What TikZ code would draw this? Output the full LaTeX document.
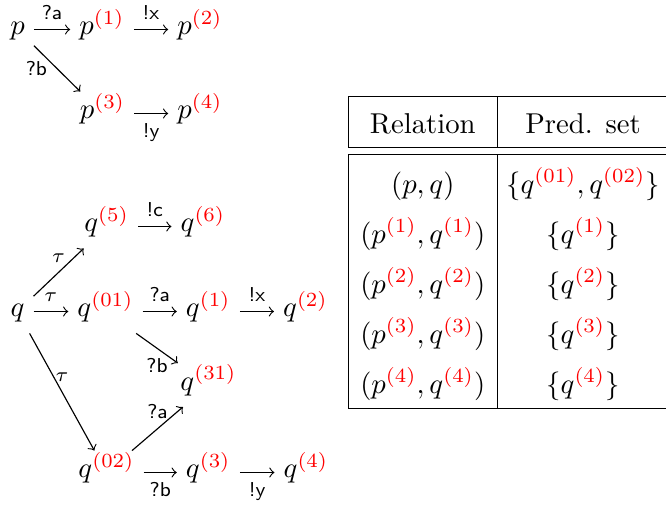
\documentclass[tikz,border=0pt]{standalone}
\usepackage{xcolor}
\newcommand\redsup[1]{^{\textcolor{red}{(#1)}}}
\begin{document}
\begin{tikzpicture}[x=0.3484pt,y=-0.3484pt,
  st/.style={text height=5.9pt,text depth=2.3pt,inner xsep=3pt},
  lb/.style={font=\scriptsize\sffamily},
  tl/.style={font=\scriptsize},
  cell/.style={anchor=base,inner sep=0pt},
  tr/.style={->}]
\useasboundingbox (0,0) rectangle (666,507);
\clip (0,0) rectangle (666,507);
% top graph
\node[st] (p)  at (17.5,29.5)   {$p$};
\node[st] (p1) at (102,29.5)    {$p\redsup{1}$};
\node[st] (p2) at (200,29.5)    {$p\redsup{2}$};
\node[st] (p3) at (102.5,113.5) {$p\redsup{3}$};
\node[st] (p4) at (200,113.5)   {$p\redsup{4}$};
\draw[tr] (p)  -- node[lb,above]{?a} (p1);
\draw[tr] (p1) -- node[lb,above]{!x} (p2);
\draw[tr] (p)  -- node[lb,left]{?b} (p3);
\draw[tr] (p3) -- node[lb,below]{!y} (p4);
% bottom graph
\node[st] (q)   at (17.5,311.5)  {$q$};
\node[st] (q5)  at (106.7,226.5) {$q\redsup{5}$};
\node[st] (q6)  at (203,226.5)   {$q\redsup{6}$};
\node[st] (q01) at (105.5,311.5) {$q\redsup{01}$};
\node[st] (q1)  at (208.3,311.5) {$q\redsup{1}$};
\node[st] (q2)  at (305.5,311.5) {$q\redsup{2}$};
\node[st] (q31) at (208.5,385)   {$q\redsup{31}$};
\node[st] (q02) at (106.5,472.5) {$q\redsup{02}$};
\node[st] (q3)  at (208.3,472.5) {$q\redsup{3}$};
\node[st] (q4)  at (306,472.5)   {$q\redsup{4}$};
\draw[tr] (q)   -- node[tl,above]{$\tau$} (q5);
\draw[tr] (q)   -- node[tl,above]{$\tau$} (q01);
\draw[tr] (q)   -- node[tl,above]{$\tau$} (q02);
\draw[tr] (q5)  -- node[lb,above]{!c} (q6);
\draw[tr] (q01) -- node[lb,above]{?a} (q1);
\draw[tr] (q1)  -- node[lb,above]{!x} (q2);
\draw[tr] (q01) -- node[lb,below]{?b} (q31);
\draw[tr] (q02) -- node[lb,above]{?a} (q31);
\draw[tr] (q02) -- node[lb,below]{?b} (q3);
\draw[tr] (q3)  -- node[lb,below]{!y} (q4);
% table
\draw (348.3,96.5) -- (669,96.5);
\draw (348.3,147.5) -- (669,147.5);
\draw (348.3,154.5) -- (669,154.5);
\draw (348.3,408.5) -- (669,408.5);
\foreach \xx in {348.5,497.5,669}{
  \draw (\xx,96.5) -- (\xx,147.5) (\xx,154.5) -- (\xx,408.5);
}
\node[cell] (h1) at (422.8,133.3) {Relation};
\node[cell] (h2) at (583,133.3) {Pred. set};
\node[cell] (r1a) at (422.8,193) {$(p,q)$};
\node[cell] (r1b) at (583,193) {$\{q\redsup{01},q\redsup{02}\}$};
\node[cell] (r2a) at (422.8,243) {$(p\redsup{1},q\redsup{1})$};
\node[cell] (r2b) at (583,243) {$\{q\redsup{1}\}$};
\node[cell] (r3a) at (422.8,293) {$(p\redsup{2},q\redsup{2})$};
\node[cell] (r3b) at (583,293) {$\{q\redsup{2}\}$};
\node[cell] (r4a) at (422.8,343) {$(p\redsup{3},q\redsup{3})$};
\node[cell] (r4b) at (583,343) {$\{q\redsup{3}\}$};
\node[cell] (r5a) at (422.8,393) {$(p\redsup{4},q\redsup{4})$};
\node[cell] (r5b) at (583,393) {$\{q\redsup{4}\}$};
\end{tikzpicture}
\end{document}
